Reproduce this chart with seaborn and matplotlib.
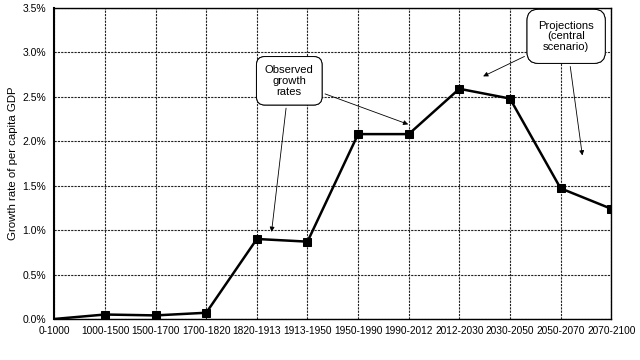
import numpy as np
import pandas as pd
import matplotlib
matplotlib.use('Agg')
import matplotlib.pyplot as plt
import seaborn as sns

periods = ['0-1000', '1000-1500', '1500-1700', '1700-1820', '1820-1913', '1913-1950',
           '1950-1990', '1990-2012', '2012-2030', '2030-2050', '2050-2070', '2070-2100']
growth = [0.0, 0.05, 0.04, 0.07, 0.90, 0.87, 2.08, 2.08, 2.59, 2.48, 1.47, 1.24]
yticks = [0.0, 0.5, 1.0, 1.5, 2.0, 2.5, 3.0, 3.5]

df = pd.DataFrame({'pos': np.arange(len(periods)), 'growth': growth})

sns.set_style('white')
plt.rcParams['font.family'] = ['Liberation Sans', 'DejaVu Sans']
plt.rcParams.update({'text.color': 'black', 'axes.labelcolor': 'black',
                     'xtick.color': 'black', 'ytick.color': 'black'})

fig, ax = plt.subplots(figsize=(6.4, 3.6), dpi=100)
sns.lineplot(data=df, x='pos', y='growth', color='black', lw=1.8, ax=ax,
             marker='s', markersize=6, markeredgecolor='black',
             markevery=list(range(1, len(periods))))

ax.set_xlim(0, len(periods) - 1)
ax.set_ylim(0, 3.5)
ax.set_xticks(df['pos'])
ax.set_xticklabels(periods, fontsize=7.3)
ax.set_yticks(yticks)
ax.set_yticklabels([f'{v:.1f}%' for v in yticks], fontsize=7.5)
ax.set_xlabel('')
ax.set_ylabel('Growth rate of per capita GDP', fontsize=8.2, labelpad=3)
ax.grid(True, color='#222222', ls=(0, (2, 1)), lw=0.8)
for s in ax.spines.values():
    s.set_color('black')
    s.set_linewidth(1.0)
ax.spines['left'].set_linewidth(1.5)
ax.tick_params(axis='y', length=0, pad=6)
ax.tick_params(axis='x', length=0, pad=5)

box = dict(boxstyle='round,pad=0.75', fc='white', ec='black', lw=0.7)
arrow = dict(arrowstyle='-|>', color='black', lw=0.6, mutation_scale=7, shrinkB=0)

obs_text = 'Observed\ngrowth\nrates'
ax.annotate(obs_text, xy=(4.29, 0.98), xytext=(4.64, 2.68), linespacing=1.1,
            ha='center', va='center', fontsize=8.1, bbox=box, arrowprops=arrow)
ax.annotate(obs_text, xy=(6.99, 2.19), xytext=(4.64, 2.68), linespacing=1.1,
            ha='center', va='center', fontsize=8.1, bbox=box, arrowprops=arrow)

box2 = dict(boxstyle='round,pad=1.0', fc='white', ec='black', lw=0.7)
proj_text = 'Projections\n(central\nscenario)'
ax.annotate(proj_text, xy=(8.47, 2.73), xytext=(10.11, 3.18), linespacing=1.1,
            ha='center', va='center', fontsize=8.1, bbox=box2, arrowprops=arrow)
ax.annotate(proj_text, xy=(10.43, 1.84), xytext=(10.11, 3.18), linespacing=1.1,
            ha='center', va='center', fontsize=8.1, bbox=box2, arrowprops=arrow)

plt.subplots_adjust(left=0.085, right=0.955, top=0.978, bottom=0.114)
fig.savefig('out.png', dpi=100)
